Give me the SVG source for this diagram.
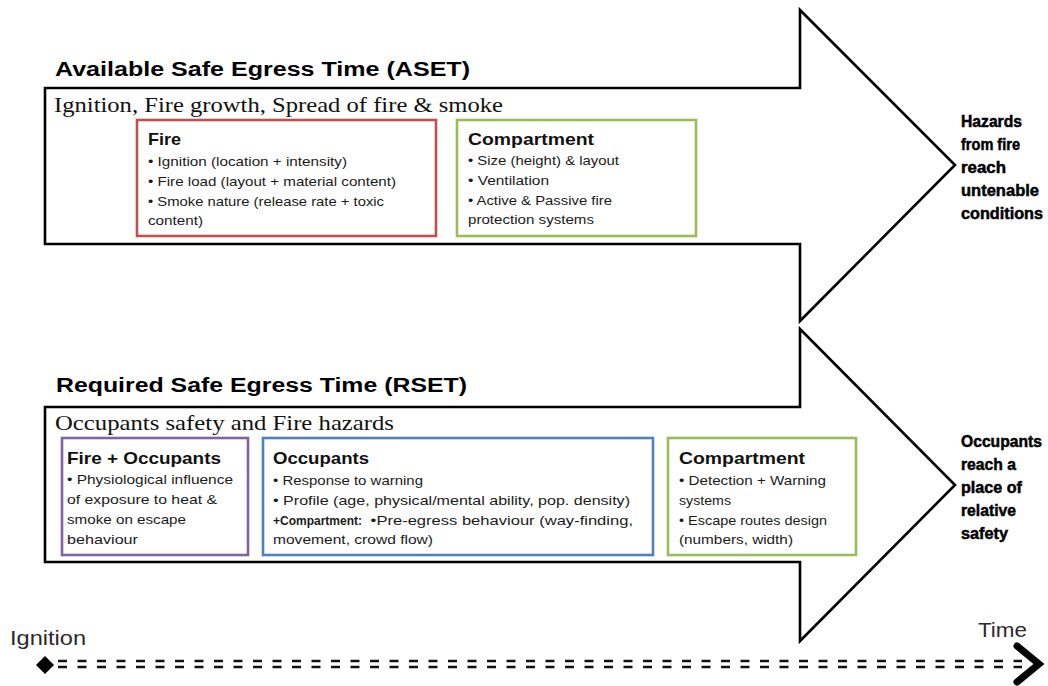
<svg xmlns="http://www.w3.org/2000/svg" width="1048" height="686" viewBox="0 0 1048 686">
  <style>
    .arrow { fill: #ffffff; stroke: #000000; stroke-width: 2.6; stroke-linejoin: miter; }
    .title { font-family: "Liberation Sans", Arial, sans-serif; font-weight: bold; font-size: 20px; fill: #000000; }
    .sub { font-family: "Liberation Serif", "Times New Roman", serif; font-size: 22px; fill: #111111; }
    .box { fill: #ffffff; stroke-width: 2.6; }
    .red { stroke: #c0504d; }
    .green { stroke: #9bbb59; }
    .blue { stroke: #4f81bd; }
    .purple { stroke: #8064a2; }
    .head { font-family: "Liberation Sans", Arial, sans-serif; font-weight: bold; font-size: 17px; fill: #111111; }
    .item { font-family: "Liberation Sans", Arial, sans-serif; font-size: 13.5px; fill: #1a1a1a; }
    .item .b { font-weight: bold; font-size: 13px; }
    .outcome { font-family: "Liberation Sans Narrow", "Liberation Sans", Arial, sans-serif; font-weight: bold; font-size: 16.5px; fill: #000000; stroke: #000000; stroke-width: 0.5; }
    .axis-label { font-family: "Liberation Sans", Arial, sans-serif; font-size: 20px; fill: #2a2a2a; }
    .dash { stroke: #111111; stroke-width: 2.4; stroke-dasharray: 9 10.5; fill: none; }
  </style>

  <!-- ASET band: big block arrow with its title and heading -->
  <g id="aset">
    <polygon class="arrow" points="45,88 800,88 800,10 955,165 800,321 800,244 45,244"/>
    <text class="title" x="55" y="76" textLength="415" lengthAdjust="spacingAndGlyphs">Available Safe Egress Time (ASET)</text>
    <text class="sub" x="54" y="112" textLength="449" lengthAdjust="spacingAndGlyphs">Ignition, Fire growth, Spread of fire &amp; smoke</text>
  </g>

  <g id="aset-fire">
    <rect class="box red" x="137" y="120" width="299" height="116"/>
    <text class="head" x="148" y="145" textLength="33" lengthAdjust="spacingAndGlyphs">Fire</text>
    <text class="item" x="148" y="166" textLength="199" lengthAdjust="spacingAndGlyphs">• Ignition (location + intensity)</text>
    <text class="item" x="148" y="186" textLength="248" lengthAdjust="spacingAndGlyphs">• Fire load (layout + material content)</text>
    <text class="item" x="148" y="206" textLength="236" lengthAdjust="spacingAndGlyphs">• Smoke nature (release rate + toxic</text>
    <text class="item" x="148" y="225" textLength="55" lengthAdjust="spacingAndGlyphs">content)</text>
  </g>

  <g id="aset-compartment">
    <rect class="box green" x="457" y="120" width="239" height="116"/>
    <text class="head" x="468" y="145" textLength="126" lengthAdjust="spacingAndGlyphs">Compartment</text>
    <text class="item" x="468" y="165" textLength="151" lengthAdjust="spacingAndGlyphs">• Size (height) &amp; layout</text>
    <text class="item" x="468" y="185" textLength="81" lengthAdjust="spacingAndGlyphs">• Ventilation</text>
    <text class="item" x="468" y="205" textLength="144" lengthAdjust="spacingAndGlyphs">• Active &amp; Passive fire</text>
    <text class="item" x="468" y="224" textLength="126" lengthAdjust="spacingAndGlyphs">protection systems</text>
  </g>

  <g id="aset-outcome">
    <text class="outcome" x="961" y="127" textLength="61" lengthAdjust="spacingAndGlyphs">Hazards</text>
    <text class="outcome" x="961" y="150" textLength="59" lengthAdjust="spacingAndGlyphs">from fire</text>
    <text class="outcome" x="961" y="173" textLength="45" lengthAdjust="spacingAndGlyphs">reach</text>
    <text class="outcome" x="961" y="196" textLength="78" lengthAdjust="spacingAndGlyphs">untenable</text>
    <text class="outcome" x="961" y="219" textLength="82" lengthAdjust="spacingAndGlyphs">conditions</text>
  </g>

  <!-- RSET band -->
  <g id="rset">
    <polygon class="arrow" points="45,407 800,407 800,329 955,485 800,641 800,562 45,562"/>
    <text class="title" x="56" y="392" textLength="411" lengthAdjust="spacingAndGlyphs">Required Safe Egress Time (RSET)</text>
    <text class="sub" x="55" y="430" textLength="339" lengthAdjust="spacingAndGlyphs">Occupants safety and Fire hazards</text>
  </g>

  <g id="rset-fire-occupants">
    <rect class="box purple" x="62" y="438" width="186" height="117"/>
    <text class="head" x="67" y="464" textLength="154" lengthAdjust="spacingAndGlyphs">Fire + Occupants</text>
    <text class="item" x="67" y="484" textLength="166" lengthAdjust="spacingAndGlyphs">• Physiological influence</text>
    <text class="item" x="67" y="504" textLength="150" lengthAdjust="spacingAndGlyphs">of exposure to heat &amp;</text>
    <text class="item" x="67" y="524" textLength="119" lengthAdjust="spacingAndGlyphs">smoke on escape</text>
    <text class="item" x="67" y="544" textLength="71" lengthAdjust="spacingAndGlyphs">behaviour</text>
  </g>

  <g id="rset-occupants">
    <rect class="box blue" x="263" y="438" width="390" height="117"/>
    <text class="head" x="273" y="464" textLength="96" lengthAdjust="spacingAndGlyphs">Occupants</text>
    <text class="item" x="273" y="485" textLength="150" lengthAdjust="spacingAndGlyphs">• Response to warning</text>
    <text class="item" x="273" y="505" textLength="357" lengthAdjust="spacingAndGlyphs">• Profile (age, physical/mental ability, pop. density)</text>
    <text class="item" y="525"><tspan class="b" x="273" textLength="89" lengthAdjust="spacingAndGlyphs">+Compartment:</tspan><tspan x="366" textLength="267" lengthAdjust="spacingAndGlyphs"> •Pre-egress behaviour (way-finding,</tspan></text>
    <text class="item" x="273" y="544" textLength="160" lengthAdjust="spacingAndGlyphs">movement, crowd flow)</text>
  </g>

  <g id="rset-compartment">
    <rect class="box green" x="668" y="438" width="188" height="117"/>
    <text class="head" x="679" y="464" textLength="126" lengthAdjust="spacingAndGlyphs">Compartment</text>
    <text class="item" x="679" y="485" textLength="147" lengthAdjust="spacingAndGlyphs">• Detection + Warning</text>
    <text class="item" x="679" y="505" textLength="52" lengthAdjust="spacingAndGlyphs">systems</text>
    <text class="item" x="679" y="525" textLength="148" lengthAdjust="spacingAndGlyphs">• Escape routes design</text>
    <text class="item" x="679" y="544" textLength="114" lengthAdjust="spacingAndGlyphs">(numbers, width)</text>
  </g>

  <g id="rset-outcome">
    <text class="outcome" x="961" y="447" textLength="81" lengthAdjust="spacingAndGlyphs">Occupants</text>
    <text class="outcome" x="961" y="470" textLength="55" lengthAdjust="spacingAndGlyphs">reach a</text>
    <text class="outcome" x="961" y="493" textLength="61" lengthAdjust="spacingAndGlyphs">place of</text>
    <text class="outcome" x="961" y="516" textLength="55" lengthAdjust="spacingAndGlyphs">relative</text>
    <text class="outcome" x="961" y="539" textLength="47" lengthAdjust="spacingAndGlyphs">safety</text>
  </g>

  <!-- time axis: labels, diamond start, double dashed line, chevron end -->
  <g id="axis-labels">
    <text class="axis-label" x="10" y="645" textLength="76" lengthAdjust="spacingAndGlyphs">Ignition</text>
    <text class="axis-label" x="978" y="637" textLength="49" lengthAdjust="spacingAndGlyphs">Time</text>
  </g>

  <g id="connectors">
    <path d="M45,656 L54,665 L45,674 L36,665 Z" fill="#000000"/>
    <line class="dash" x1="58" y1="661" x2="1022" y2="661"/>
    <line class="dash" x1="58" y1="667" x2="1022" y2="667"/>
    <polyline points="1017,646 1039,664 1017,682" fill="none" stroke="#000000" stroke-width="7" stroke-linecap="round" stroke-linejoin="miter"/>
  </g>
</svg>
